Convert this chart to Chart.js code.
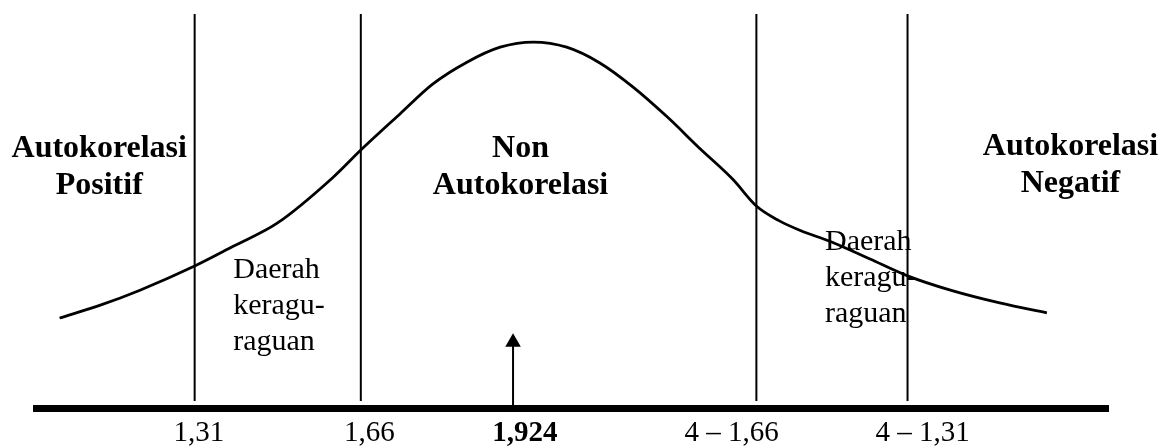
<!DOCTYPE html>
<html>
<head>
<meta charset="utf-8">
<script src="https://cdn.jsdelivr.net/npm/chart.js@4.4.1/dist/chart.umd.min.js"></script>
<style>
    body { margin: 0; background: #fff; }
    canvas { display: block; }
</style>
</head>
<body>
<canvas id="dwChart" width="1163" height="448"></canvas>
<script>
// x is a schematic position along the axis (0..100), y is relative height of the curve
const curveX = [2.2, 6.0, 9.7, 14.8, 18.4, 22.5, 27.7, 30.3, 34.0, 37.0, 40.2, 43.3, 46.4, 49.5, 52.6, 55.7, 58.9, 61.9, 65.0, 67.2, 69.3, 71.3, 74.1, 77.8, 81.3, 85.3, 89.9, 94.3];
const curveY = [0.246, 0.281, 0.322, 0.388, 0.442, 0.505, 0.630, 0.705, 0.805, 0.885, 0.945, 0.986, 1.000, 0.986, 0.943, 0.877, 0.795, 0.710, 0.625, 0.552, 0.512, 0.485, 0.455, 0.407, 0.361, 0.322, 0.287, 0.260];

// dL, dU, 4-dU, 4-dL boundaries
const boundaryX = [14.8, 30.3, 67.2, 81.3];
const boundaryTop = 1.077;
const boundaryBottom = 0.019;

// computed d statistic marker
const arrowX = 44.5;
const arrowTip = 0.18;

const tickPos = [15.2, 31.1, 45.6, 64.9, 82.7];
const tickLabels = ['1,31', '1,66', '1,924', '4 \u2013 1,66', '4 \u2013 1,31'];

const regionTitles = [['Autokorelasi', 'Positif'], ['Non', 'Autokorelasi'], ['Autokorelasi', 'Negatif']];
const doubtTitle = ['Daerah', 'keragu-', 'raguan'];

const serif = "'Liberation Serif', 'Times New Roman', serif";

const datasets = [{
    data: curveX.map((x, i) => ({ x: x, y: curveY[i] })),
    borderColor: '#000',
    borderWidth: 2.8,
    cubicInterpolationMode: 'monotone',
    pointRadius: 0
}];

boundaryX.forEach(x => {
    datasets.push({
        data: [{ x: x, y: boundaryBottom }, { x: x, y: boundaryTop }],
        borderColor: '#000',
        borderWidth: 2,
        pointRadius: 0
    });
});

datasets.push({
    data: [{ x: arrowX, y: 0 }, { x: arrowX, y: arrowTip }],
    borderColor: '#000',
    borderWidth: 2,
    backgroundColor: '#000',
    pointStyle: 'triangle',
    pointRadius: [0, 9],
    pointBorderWidth: 0
});

// text blocks: [lines, x, first baseline y, align, bold]
const textBlocks = [
    [regionTitles[0], 5.9, 0.686, 'center', true],
    [regionTitles[1], 45.2, 0.686, 'center', true],
    [regionTitles[2], 96.5, 0.691, 'center', true],
    [doubtTitle, 18.4, 0.355, 'left', false],
    [doubtTitle, 73.6, 0.432, 'left', false]
];

const textPlugin = {
    id: 'regionText',
    afterDatasetsDraw(chart) {
        const ctx = chart.ctx;
        const xs = chart.scales.x, ys = chart.scales.y;
        ctx.save();
        ctx.fillStyle = '#000';
        ctx.textBaseline = 'alphabetic';
        textBlocks.forEach(b => {
            const lineGap = b[4] ? 37 : 36;
            ctx.font = (b[4] ? 'bold 32px ' : '30px ') + serif;
            ctx.textAlign = b[3];
            const px = xs.getPixelForValue(b[1]);
            const py = ys.getPixelForValue(b[2]);
            b[0].forEach((line, i) => ctx.fillText(line, px, py + i * lineGap));
        });
        ctx.restore();
    }
};

new Chart(document.getElementById('dwChart'), {
    type: 'line',
    data: { datasets: datasets },
    options: {
        responsive: false,
        animation: false,
        layout: { autoPadding: false, padding: { left: 36, right: 55, top: 0, bottom: 0 } },
        plugins: { legend: { display: false }, tooltip: { enabled: false } },
        scales: {
            x: {
                type: 'linear',
                min: 0,
                max: 100,
                afterFit: scale => { scale.height = 40; },
                afterBuildTicks: scale => { scale.ticks = tickPos.map(v => ({ value: v })); },
                grid: { display: false, drawTicks: false },
                border: { display: true, width: 7, color: '#000' },
                ticks: {
                    autoSkip: false,
                    maxRotation: 0,
                    padding: 8,
                    color: '#000',
                    font: ctx => ({ family: serif, size: 29, weight: ctx.index === 2 ? 'bold' : 'normal' }),
                    callback: (value, index) => tickLabels[index]
                }
            },
            y: {
                display: false,
                min: 0,
                max: 1.115
            }
        }
    },
    plugins: [textPlugin]
});
</script>
</body>
</html>
